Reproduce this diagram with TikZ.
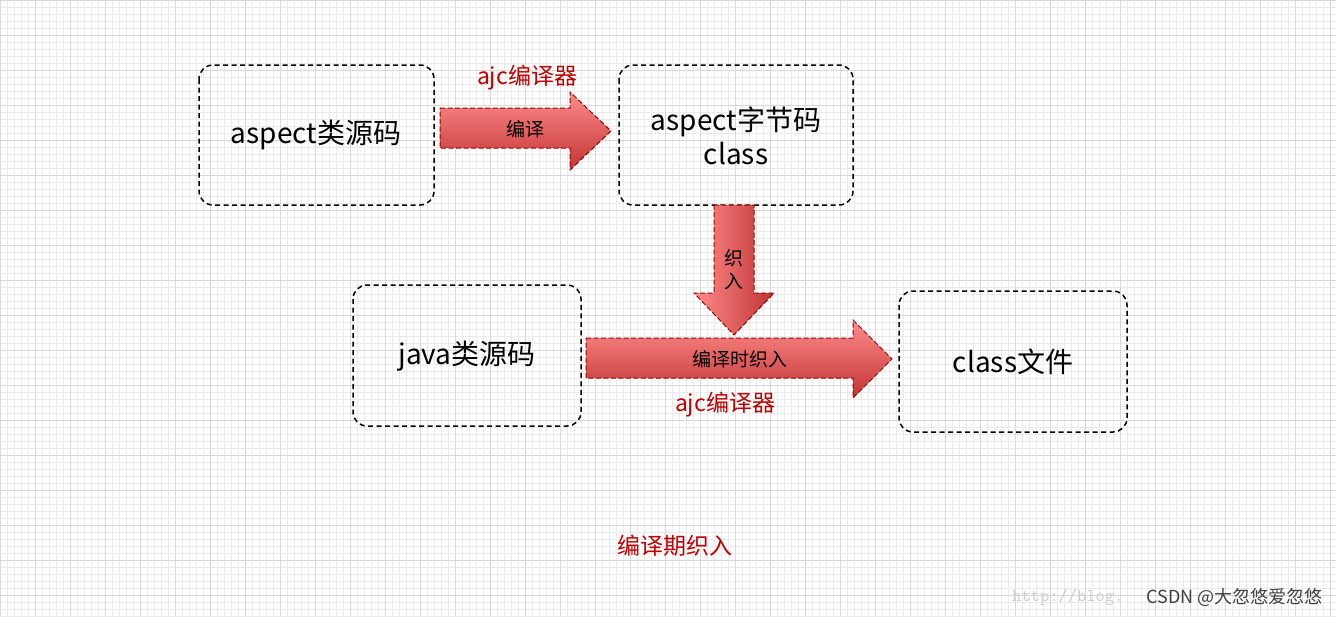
\documentclass[tikz,border=0pt]{standalone}
\usepackage{fontspec}
\setmainfont{Noto Sans CJK SC}
\begin{document}
\begin{tikzpicture}[x=1pt,y=-1pt,
 box/.style={draw,dashed,line width=1.5pt,rounded corners=14pt,dash pattern=on 5pt off 3.5pt},
 arr/.style={draw=red!60!black,dashed,line width=1pt,top color=red!45!white,bottom color=red!70!black!80,dash pattern=on 5pt off 2.5pt},
 txt/.style={font=\fontsize{28}{34}\selectfont},
 lab/.style={font=\fontsize{19}{23}\selectfont},
 red/.style={text=red!75!black,font=\fontsize{23}{26}\selectfont}]
\useasboundingbox (0,0) rectangle (1336,616);
\foreach \i in {0,7,...,1336} \draw[black!8,line width=0.4pt] (\i,0) -- (\i,616);
\foreach \i in {0,7,...,616} \draw[black!8,line width=0.4pt] (0,\i) -- (1336,\i);
\foreach \i in {0,35,...,1336} \draw[black!15,line width=0.5pt] (\i,0) -- (\i,616);
\foreach \i in {0,35,...,616} \draw[black!15,line width=0.5pt] (0,\i) -- (1336,\i);
\draw[box] (199,65) rectangle (434,205);
\node[txt] (a) at (316,135) {aspect类源码};
\draw[box] (619,65) rectangle (853,205);
\node[txt,align=center] (b) at (736,136) {aspect字节码\\class};
\draw[box] (353,285) rectangle (581,426);
\node[txt] (c) at (467,356) {java类源码};
\draw[box] (899,291) rectangle (1127,432);
\node[txt] (d) at (1013,362) {class文件};
\path[arr] (440,108) -- (570,108) -- (570,92) -- (611,131) -- (570,170) -- (570,148) -- (440,148) -- cycle;
\path[arr,left color=red!45!white,right color=red!70!black!80] (714,205) -- (754,205) -- (754,293) -- (774,293) -- (734,335) -- (694,293) -- (714,293) -- cycle;
\path[arr] (586,338) -- (853,338) -- (853,320) -- (892,359) -- (853,398) -- (853,378) -- (586,378) -- cycle;
\node[lab] (l1) at (525,129) {编译};
\node[lab,align=center] (l2) at (734,270) {织\\入};
\node[lab] (l3) at (740,359) {编译时织入};
\node[red] (r1) at (527,78) {ajc编译器};
\node[red] (r2) at (725,405) {ajc编译器};
\node[red] (r3) at (675,546) {编译期织入};
\node[black!20,font=\fontsize{18}{20}\ttfamily\selectfont,anchor=west,inner sep=0pt] (w1) at (1012,597) {http://blog.};
\node[black!75,font=\fontsize{18}{20}\selectfont,anchor=east,inner sep=1pt] (w2) at (1324,597) {CSDN @大忽悠爱忽悠};
\end{tikzpicture}
\end{document}
